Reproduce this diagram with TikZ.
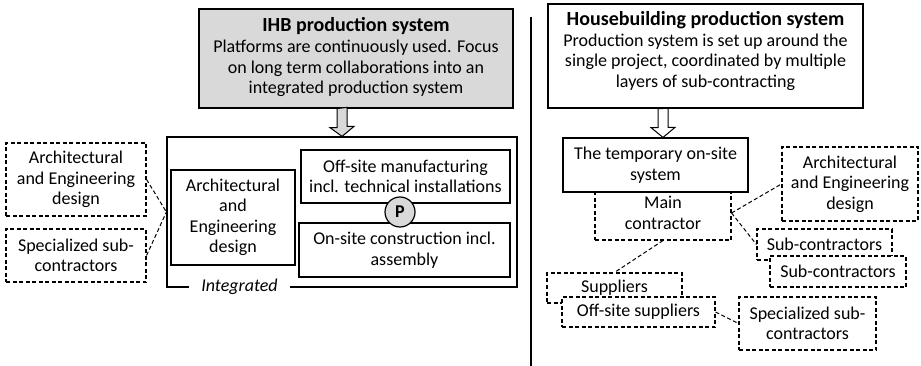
\documentclass[tikz,border=0pt]{standalone}
\usepackage{fontspec}
\setmainfont{Carlito}
\definecolor{boxgray}{RGB}{217,217,217}

\tikzset{
  solidbox/.style={draw,line width=1.2pt,align=center,inner sep=0pt,fill=white},
  dashbox/.style={draw,line width=1.1pt,dash pattern=on 4pt off 2.5pt,align=center,inner sep=0pt,fill=white},
  link/.style={line width=1pt,dash pattern=on 4pt off 2.5pt},
  hollow/.style={draw,line width=1pt,line join=miter},
  title/.style={font=\bfseries\fontsize{20}{22}\selectfont}
}

\begin{document}
\begin{tikzpicture}[x=1pt,y=-1pt,font=\fontsize{18}{20.5}\selectfont]
   \useasboundingbox (0,0) rectangle (921,366);
   % IHB side
   \node[solidbox,fill=boxgray,minimum width=314,minimum height=99] (ihb) at (356,58.5) {};
   \node[align=center] (ihbtxt) at (356,57)
      {{\bfseries\fontsize{20}{20}\selectfont IHB production system}\\[1pt]
       \fontsize{18}{19}\selectfont Platforms are continuously used. Focus\\
       on long term collaborations into an\\ integrated production system};
   \node[solidbox,fill=none,minimum width=350,minimum height=150] (integ) at (342,212) {};
   \node[fill=white,inner xsep=12pt,inner ysep=1pt,font=\itshape\fontsize{18}{20}\selectfont] (intlab) at (239.5,287) {Integrated};
   \node[solidbox,minimum width=124,minimum height=95] (arch) at (233,217.5)
      {Architectural\\ and\\ Engineering\\ design};
   \node[solidbox,minimum width=209,minimum height=53] (offsite) at (405.5,176.5)
      {Off-site manufacturing\\ incl. technical installations};
   \node[solidbox,minimum width=211,minimum height=54] (onsite) at (404.5,250)
      {On-site construction incl.\\ assembly};
   \node[draw,circle,line width=1.2pt,fill=boxgray,minimum size=30,inner sep=0pt,font=\bfseries\fontsize{18}{20}\selectfont] (p) at (400,212) {P};
   \node[dashbox,minimum width=140,minimum height=73] (archL) at (76,179.5)
      {Architectural\\ and Engineering\\ design};
   \node[dashbox,minimum width=140,minimum height=53] (specL) at (76,255.5)
      {Specialized sub-\\ contractors};
   \draw[link] (archL.east) -- (integ.west);
   \draw[link] (specL.east) -- (integ.west);
   \draw[hollow,fill=boxgray] ([xshift=-5pt]ihb.south -| integ.north) -- ++(0,19) -- ++(-7,0)
      -- (integ.north) -- ++(12,-10) -- ++(-7,0) -- ++(0,-19) -- cycle;

   % divider
   \coordinate (divtop) at (531,17);
   \coordinate (divbot) at (531,366);
   \draw[line width=1.3pt] (divtop) -- (divbot);

   % Housebuilding side
   \node[solidbox,minimum width=315,minimum height=104] (house) at (705.5,56) {};
   \node[align=center,anchor=north] (housetxt) at (705.5,8)
      {{\bfseries\fontsize{20}{20}\selectfont Housebuilding production system}\\[0pt]
       \fontsize{18}{17.5}\selectfont Production system is set up around the\\
       single project, coordinated by multiple\\ layers of sub-contracting};
   \node[dashbox,minimum width=136,minimum height=54] (main) at (663,213)
      {Main\\ contractor};
   \node[solidbox,minimum width=185,minimum height=54] (temp) at (655.5,165)
      {The temporary on-site\\ system};
   \draw[hollow,fill=white] ([xshift=-5pt]house.south -| main.north) -- ++(0,19) -- ++(-7,0)
      -- (temp.north -| main.north) -- ++(12,-10) -- ++(-7,0) -- ++(0,-19) -- cycle;
   \node[dashbox,minimum width=136,minimum height=74] (archR) at (850,184)
      {Architectural\\ and Engineering\\ design};
   \node[dashbox,minimum width=135,minimum height=31] (sub1) at (824.5,244.5) {Sub-contractors};
   \node[dashbox,minimum width=136,minimum height=31] (sub2) at (838,271.5) {Sub-contractors};
   \node[dashbox,minimum width=135,minimum height=30] (supp) at (614.5,288) {Suppliers};
   \node[dashbox,minimum width=153,minimum height=30] (offsup) at (638.5,312) {Off-site suppliers};
   \node[dashbox,minimum width=137,minimum height=53] (specR) at (807.5,323.5)
      {Specialized sub-\\ contractors};
   \draw[link] (main.east) -- (archR.west);
   \draw[link] (main.east) -- (sub1.west);
   \draw[link] (main.south) -- (supp.north);
   \draw[link] (offsup.east) -- (specR.west);
\end{tikzpicture}
\end{document}
